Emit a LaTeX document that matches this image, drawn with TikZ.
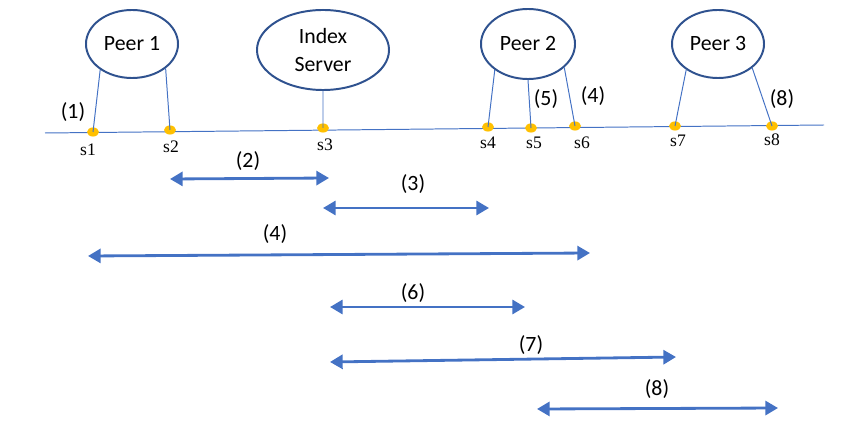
\documentclass[tikz,border=0pt]{standalone}
\usepackage{fontspec}
\setmainfont{Carlito}
\newfontfamily\stepfont{Liberation Serif}
\usetikzlibrary{shapes.geometric,arrows.meta}
\definecolor{peerblue}{HTML}{2F528F}
\definecolor{linkblue}{HTML}{4472C4}
\definecolor{dotorange}{HTML}{FFC000}
\begin{document}
\begin{tikzpicture}[
    x = 0.025cm, y = -0.025cm,
    every node/.style = {font = \fontsize{15.5}{20.5}\selectfont},
    peer/.style = {ellipse, draw = peerblue, line width = 1.4pt, align = center, inner sep = 0pt},
    stepdot/.style = {ellipse, fill = dotorange, minimum width = 8.5pt, minimum height = 6.5pt, inner sep = 0pt},
    steplabel/.style = {font = \stepfont\fontsize{12.5}{14}\selectfont},
    wire/.style = {draw = linkblue, line width = 0.7pt},
    msg/.style = {draw = linkblue, line width = 2pt,
                  {Triangle[length=9pt,width=10pt]}-{Triangle[length=9pt,width=10pt]}}]

\useasboundingbox (0,0) rectangle (859,431);

% hosts
\path (132,44) node[peer, minimum width = 2.3cm, minimum height = 1.7cm](p1) {Peer 1}
      (323,50) node[peer, minimum width = 3.3cm, minimum height = 2.0cm](srv) {Index\\Server}
      (528,44) node[peer, minimum width = 2.35cm, minimum height = 1.75cm](p2) {Peer 2}
      (718,44) node[peer, minimum width = 2.3cm, minimum height = 1.7cm](p3) {Peer 3}
      ;

% time line
\coordinate (tl) at (45,133);
\coordinate (tr) at (824,125);
\draw[wire] (tl) -- (tr);

% steps on the line
\path (93,132)  node[stepdot](s1) {}
      (170,130) node[stepdot](s2) {}
      (323,128) node[stepdot](s3) {}
      (488,127) node[stepdot](s4) {}
      (531,128) node[stepdot](s5) {}
      (575,126) node[stepdot](s6) {}
      (675,126) node[stepdot](s7) {}
      (772,126) node[stepdot](s8) {}
      ;
\draw[wire] (p1.219) -- (s1.center)
            (p1.324) -- (s2.center)
            (srv.south) -- (s3.center)
            (p2.218) -- (s4.center)
            (p2.south) -- (s5.center)
            (p2.327) -- (s6.center)
            (p3.219) -- (s7.center)
            (p3.325) -- (s8.center)
            ;
\path (88,150)  node[steplabel](ls1) {s1}
      (171,147) node[steplabel](ls2) {s2}
      (325,145) node[steplabel](ls3) {s3}
      (488,143) node[steplabel](ls4) {s4}
      (534,143) node[steplabel](ls5) {s5}
      (582,143) node[steplabel](ls6) {s6}
      (678,141) node[steplabel](ls7) {s7}
      (772,140) node[steplabel](ls8) {s8}
      ;
\path (73,112)  node(n1) {(1)}
      (546,99)  node(n5) {(5)}
      (593,96)  node(n4) {(4)}
      (782,99)  node(n8) {(8)}
      ;

% messages
\coordinate (m2a) at (170,179);  \coordinate (m2b) at (329,178);
\coordinate (m3a) at (323,208);  \coordinate (m3b) at (489,208);
\coordinate (m4a) at (88,256);   \coordinate (m4b) at (590,253);
\coordinate (m6a) at (330,307);  \coordinate (m6b) at (525,307);
\coordinate (m7a) at (330,362);  \coordinate (m7b) at (676,357);
\coordinate (m8a) at (537,409);  \coordinate (m8b) at (778,408);
\draw[msg] (m2a) -- (m2b);
\draw[msg] (m3a) -- (m3b);
\draw[msg] (m4a) -- (m4b);
\draw[msg] (m6a) -- (m6b);
\draw[msg] (m7a) -- (m7b);
\draw[msg] (m8a) -- (m8b);
\path (248,161) node(l2) {(2)}
      (413,184) node(l3) {(3)}
      (275,234) node(l4) {(4)}
      (413,293) node(l6) {(6)}
      (531,345) node(l7) {(7)}
      (657,389) node(l8) {(8)}
      ;
\end{tikzpicture}
\end{document}
